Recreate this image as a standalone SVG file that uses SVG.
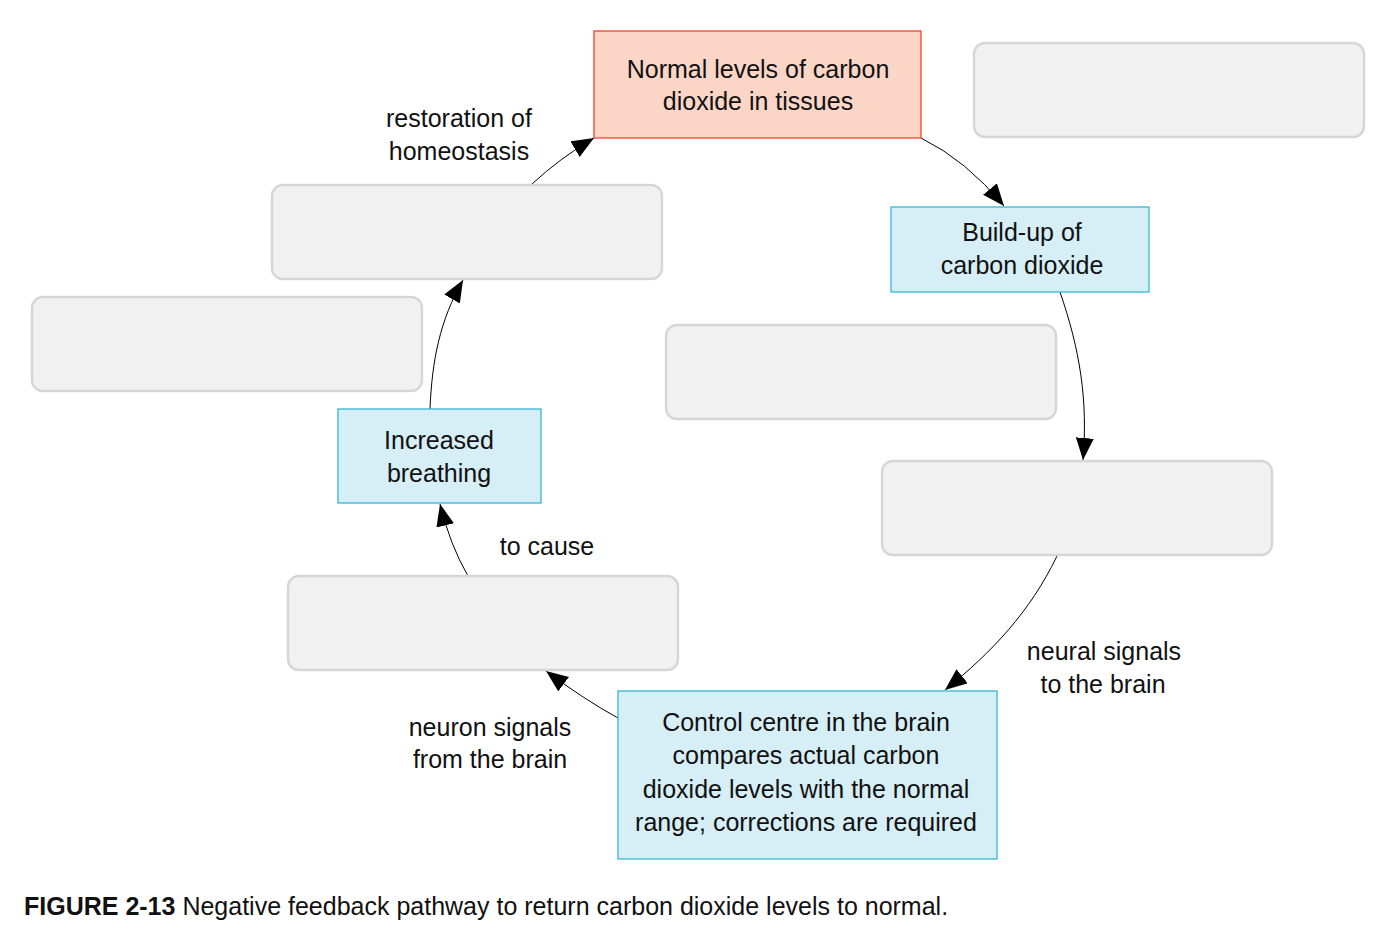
<svg xmlns="http://www.w3.org/2000/svg" width="1396" height="940" viewBox="0 0 1396 940">
<defs>
<marker id="ah" markerUnits="userSpaceOnUse" markerWidth="24" markerHeight="20" refX="22" refY="9" orient="auto">
<path d="M0,0 L22,9 L0,18 Z" fill="#000"/>
</marker>
</defs>
<style>
text{font-family:"Liberation Sans",Arial,sans-serif;font-size:25px;fill:#111;text-anchor:middle}
.gray{fill:#f1f1f1;stroke:#d6d6d6;stroke-width:2.5}
.blue{fill:#d6eef6;stroke:#27b2d3;stroke-width:1.2}
.red{fill:#fbd6c6;stroke:#f2361f;stroke-width:1.2}
.conn{fill:none;stroke:#000;stroke-width:1;marker-end:url(#ah)}
.cap{text-anchor:start}
</style>
<rect width="1396" height="940" fill="#fff"/>
<g id="connectors">
<path class="conn" d="M921,138 Q966,160 1004,206"/>
<path class="conn" d="M1060,292 C1080,350 1088,400 1083,460"/>
<path class="conn" d="M1057,556 C1030,612 992,652 945,690"/>
<path class="conn" d="M618,718 Q585,700 546,671"/>
<path class="conn" d="M468,576 Q450,545 440,504"/>
<path class="conn" d="M430,409 C432,360 440,320 463,280"/>
<path class="conn" d="M532,184 Q560,158 594,138"/>
</g>
<g id="normal"><rect class="red" x="594" y="31" width="327" height="107"/>
<text x="758" y="78">Normal levels of carbon</text><text x="758" y="110">dioxide in tissues</text></g>
<g id="blank1"><rect class="gray" x="974" y="43" width="390" height="94" rx="11"/></g>
<g id="blank2"><rect class="gray" x="272" y="185" width="390" height="94" rx="11"/></g>
<g id="blank3"><rect class="gray" x="32" y="297" width="390" height="94" rx="11"/></g>
<g id="blank4"><rect class="gray" x="666" y="325" width="390" height="94" rx="11"/></g>
<g id="blank5"><rect class="gray" x="882" y="461" width="390" height="94" rx="11"/></g>
<g id="blank6"><rect class="gray" x="288" y="576" width="390" height="94" rx="11"/></g>
<g id="buildup"><rect class="blue" x="891" y="207" width="258" height="85"/>
<text x="1022" y="241">Build-up of</text><text x="1022" y="274">carbon dioxide</text></g>
<g id="breathing"><rect class="blue" x="338" y="409" width="203" height="94"/>
<text x="439" y="449">Increased</text><text x="439" y="482">breathing</text></g>
<g id="control"><rect class="blue" x="618" y="691" width="379" height="168"/>
<text x="806" y="731">Control centre in the brain</text>
<text x="806" y="764">compares actual carbon</text>
<text x="806" y="798">dioxide levels with the normal</text>
<text x="806" y="831">range; corrections are required</text></g>
<g id="labels">
<text x="459" y="127">restoration of</text><text x="459" y="160">homeostasis</text>
<text x="547" y="555">to cause</text>
<text x="1104" y="660">neural signals</text><text x="1103" y="693">to the brain</text>
<text x="490" y="736">neuron signals</text><text x="490" y="768">from the brain</text>
</g>
<text class="cap" x="24" y="915"><tspan font-weight="bold">FIGURE 2-13</tspan> Negative feedback pathway to return carbon dioxide levels to normal.</text>
</svg>
